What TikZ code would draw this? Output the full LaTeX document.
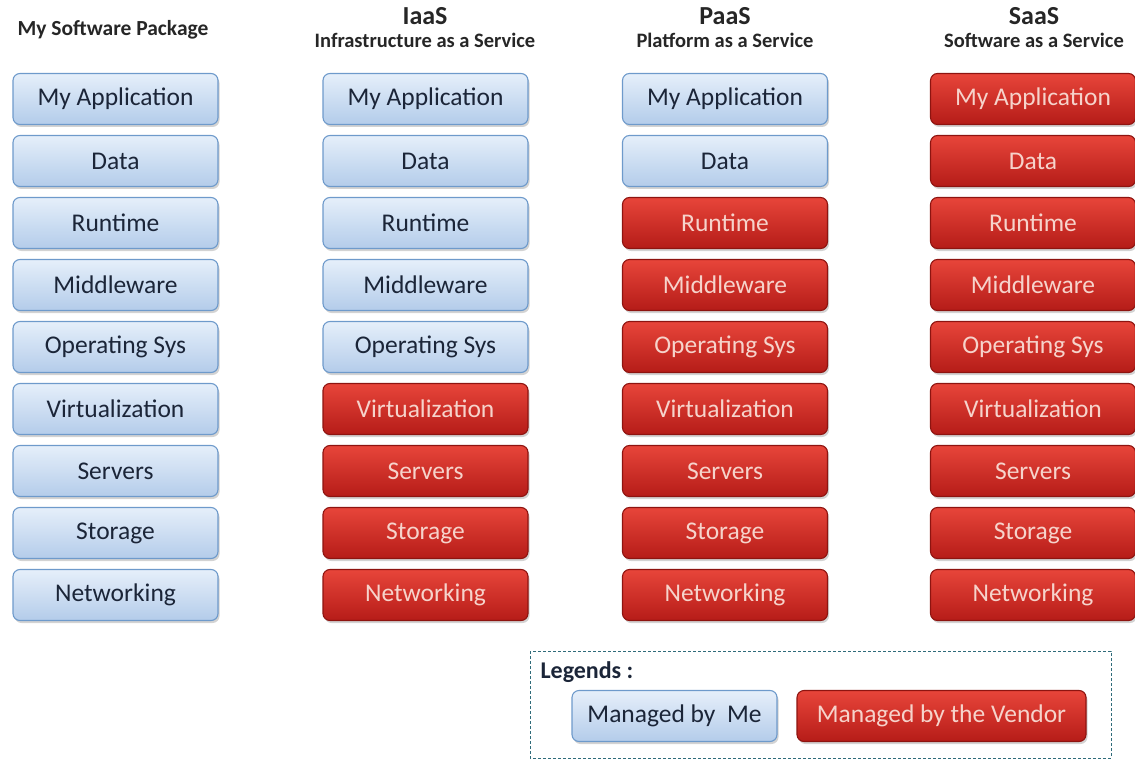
\documentclass[tikz,border=0pt]{standalone}
\usepackage{fontspec}
\setmainfont{Carlito}
\usetikzlibrary{shadows}
\definecolor{metop}{HTML}{E6EFFA}
\definecolor{mebot}{HTML}{B3CCEA}
\definecolor{meborder}{HTML}{6E9ACB}
\definecolor{metext}{HTML}{1B2538}
\definecolor{vtop}{HTML}{E8453A}
\definecolor{vbot}{HTML}{B51C18}
\definecolor{vborder}{HTML}{8E1410}
\definecolor{vtext}{HTML}{F6D3CB}
\definecolor{legline}{HTML}{2F6B7A}
\tikzset{
  boxbase/.style={rounded corners=7pt, line width=1.1pt, minimum width=205pt, minimum height=51pt,
    font=\fontsize{25.5}{30}\selectfont, inner sep=0pt,
    drop shadow={opacity=0.35, shadow xshift=1.5pt, shadow yshift=-2.5pt}},
  mebox/.style={boxbase, draw=meborder, top color=metop, bottom color=mebot, text=metext},
  vbox/.style={boxbase, draw=vborder, top color=vtop, bottom color=vbot, text=vtext},
  headmain/.style={font=\bfseries\fontsize{26}{30}\selectfont, text=black!85},
  headsub/.style={font=\bfseries\fontsize{20.5}{24}\selectfont, text=black!85},
}
\begin{document}
\begin{tikzpicture}[x=1pt,y=-1pt]
\useasboundingbox (0,0) rectangle (1135,762);
% headers
\node[headsub, font=\bfseries\fontsize{21.5}{25}\selectfont] (h1) at (113,30) {My Software Package};
\node[headmain] (h2) at (425,16) {IaaS};
\node[headsub] (h2s) at (425,40) {Infrastructure as a Service};
\node[headmain] (h3) at (725,16) {PaaS};
\node[headsub] (h3s) at (725,40) {Platform as a Service};
\node[headmain] (h4) at (1034,16) {SaaS};
\node[headsub] (h4s) at (1034,40) {Software as a Service};
% columns
\foreach \lab [count=\i] in {My Application,Data,Runtime,Middleware,Operating Sys,Virtualization,Servers,Storage,Networking}{
  \pgfmathsetmacro{\yy}{99+62*(\i-1)}
  \node[mebox] (a\i) at (115.5,\yy) {\lab};
  \ifnum\i<6 \node[mebox] (b\i) at (425.5,\yy) {\lab};
  \else \node[vbox] (b\i) at (425.5,\yy) {\lab}; \fi
  \ifnum\i<3 \node[mebox] (c\i) at (725,\yy) {\lab};
  \else \node[vbox] (c\i) at (725,\yy) {\lab}; \fi
  \node[vbox] (d\i) at (1033,\yy) {\lab};
}
% legend
\draw[legline, line width=0.8pt, dash pattern=on 3pt off 2pt] (530,651) rectangle (1111,758);
\node[anchor=west, font=\bfseries\fontsize{24}{28}\selectfont, text=metext] (leg) at (537,672) {Legends :};
\node[mebox] (lme) at (674.5,716) {Managed by~~Me};
\node[vbox, minimum width=289pt] (lv) at (941.5,716) {Managed by the Vendor};
\end{tikzpicture}
\end{document}
